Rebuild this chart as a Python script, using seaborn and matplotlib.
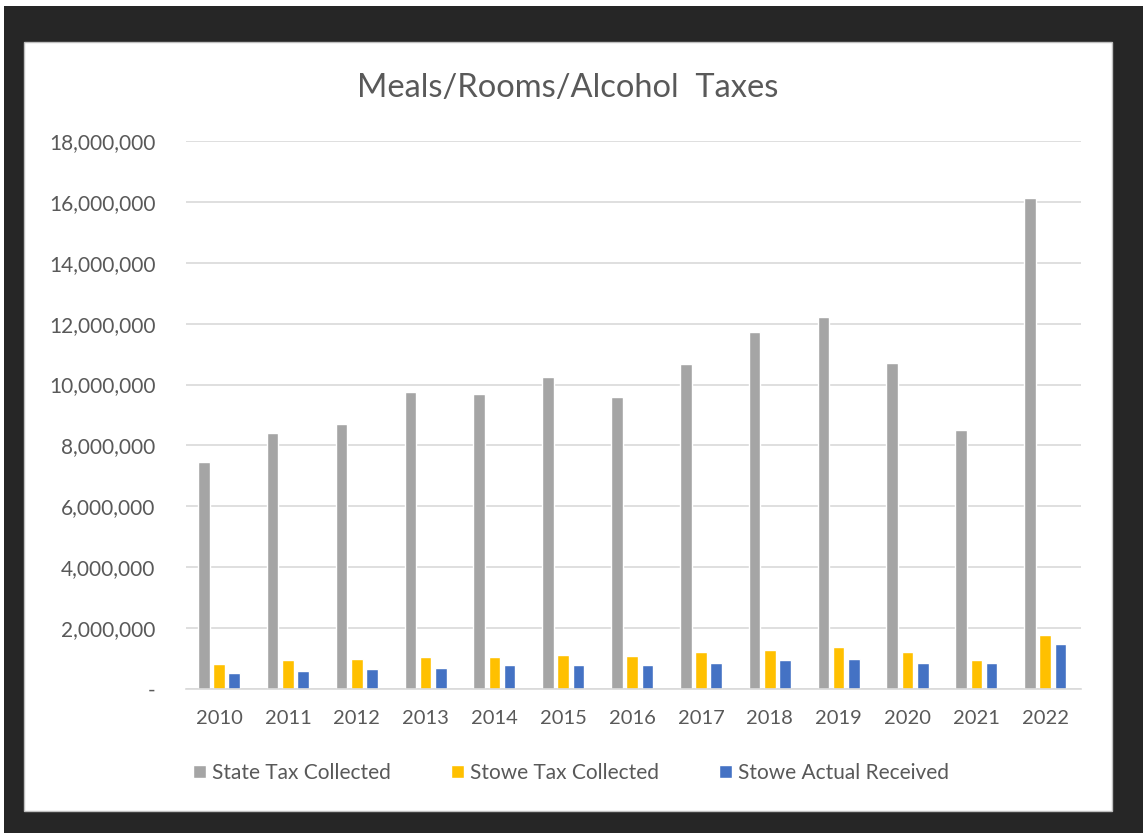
import matplotlib
matplotlib.use("Agg")
import matplotlib.pyplot as plt
from matplotlib.patches import Rectangle
from matplotlib.ticker import FuncFormatter, MultipleLocator
import seaborn as sns
import pandas as pd

years = ["2010", "2011", "2012", "2013", "2014", "2015", "2016",
         "2017", "2018", "2019", "2020", "2021", "2022"]
state_tax = [7460000, 8420000, 8710000, 9760000, 9690000, 10250000, 9590000,
             10680000, 11730000, 12220000, 10710000, 8500000, 16130000]
stowe_tax = [810000, 950000, 1000000, 1060000, 1060000, 1120000, 1070000,
             1200000, 1280000, 1370000, 1200000, 950000, 1780000]
stowe_received = [520000, 600000, 660000, 690000, 780000, 780000, 780000,
                  860000, 950000, 1000000, 860000, 860000, 1490000]
series_names = ["State Tax Collected", "Stowe Tax Collected", "Stowe Actual Received"]
colors = ["#A5A5A5", "#FFC000", "#4472C4"]

rows = []
for name, vals in zip(series_names, [state_tax, stowe_tax, stowe_received]):
    for y, v in zip(years, vals):
        rows.append({"Year": y, "Series": name, "Value": v})
df = pd.DataFrame(rows)

sns.set_theme(style="white")
plt.rcParams["font.family"] = ["Lato", "DejaVu Sans"]

W, H = 1143, 833
fig = plt.figure(figsize=(W / 100, H / 100), dpi=100)
fig.patch.set_facecolor("white")

# dark frame and white chart area
fig.add_artist(Rectangle((4 / W, 0), 1 - 4 / W, 1 - 6 / H, transform=fig.transFigure,
                         facecolor="#262626", edgecolor="none", zorder=-3))
fig.add_artist(Rectangle((24 / W, 1 - 811 / H), (1112 - 24) / W, (811 - 42) / H,
                         transform=fig.transFigure, facecolor="white",
                         edgecolor="#BFBFBF", linewidth=1.0, zorder=-2))

ax = fig.add_axes([186 / W, 1 - 689 / H, (1081 - 186) / W, (689 - 141) / H])
ax.set_facecolor("none")

sns.barplot(data=df, x="Year", y="Value", hue="Series", palette=colors,
            width=0.663, gap=0.235, ax=ax, saturation=1, legend=True)

ax.set_xlim(-0.48, 12.52)
ax.set_ylim(0, 18000000)
ax.yaxis.set_major_locator(MultipleLocator(2000000))
ax.yaxis.set_major_formatter(FuncFormatter(lambda v, p: "-" if v == 0 else f"{v:,.0f}"))
ax.grid(axis="y", color="#D9D9D9", linewidth=1.2)
ax.set_axisbelow(True)
for s in ["top", "right", "left"]:
    ax.spines[s].set_visible(False)
ax.spines["bottom"].set_color("#D9D9D9")
ax.spines["bottom"].set_linewidth(1.2)
ax.set_xlabel("")
ax.set_ylabel("")
ax.tick_params(axis="y", length=0, pad=22, labelsize=15, labelcolor="#595959")
ax.tick_params(axis="x", length=0, pad=15, labelsize=14.5, labelcolor="#595959")

handles, labels = ax.get_legend_handles_labels()
ax.legend_.remove()
fig.legend(handles, labels, loc="center", bbox_to_anchor=(571 / W, 1 - 773 / H),
           ncol=3, frameon=False, fontsize=15, labelcolor="#595959",
           handlelength=0.6, handleheight=0.6, handletextpad=0.3, columnspacing=2.9)

fig.text(568 / W, 1 - 88 / H, "Meals/Rooms/Alcohol  Taxes", ha="center", va="center",
         fontsize=23.5, color="#595959")

fig.savefig("out.png", dpi=100)
